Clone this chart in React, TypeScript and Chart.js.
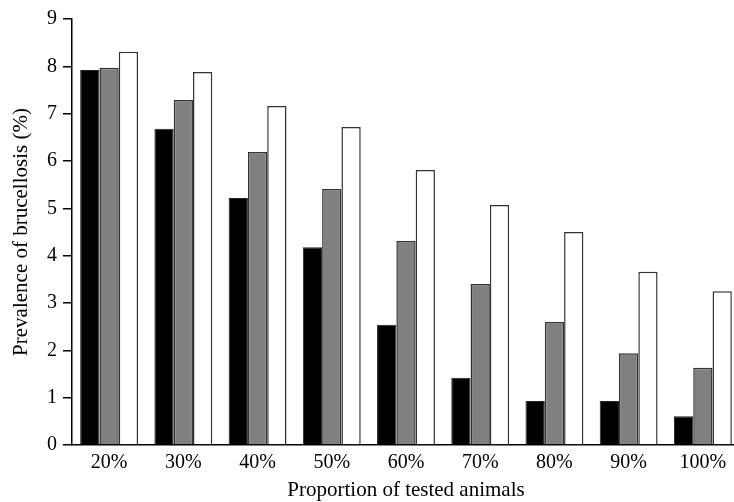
import React, { useEffect, useRef } from "react";
import { Chart, registerables } from "chart.js";

Chart.register(...registerables);

const categories = ["20%", "30%", "40%", "50%", "60%", "70%", "80%", "90%", "100%"];
const seriesBlack = [7.92, 6.68, 5.22, 4.18, 2.54, 1.42, 0.93, 0.93, 0.61];
const seriesGray = [7.97, 7.29, 6.19, 5.41, 4.31, 3.4, 2.6, 1.94, 1.63];
const seriesWhite = [8.31, 7.88, 7.16, 6.72, 5.81, 5.07, 4.5, 3.66, 3.25];
const yTicks = [0, 1, 2, 3, 4, 5, 6, 7, 8, 9];

const FONT = "'Liberation Serif', 'Times New Roman', serif";

export default function App() {
  const ref = useRef<HTMLCanvasElement | null>(null);
  useEffect(() => {
    document.body.style.margin = "0";
    document.body.style.overflow = "hidden";
    const ctx = ref.current!;
    const chart = new Chart(ctx, {
      type: "bar",
      data: {
        labels: categories,
        datasets: [
          { label: "A", data: seriesBlack, backgroundColor: "#000000", borderColor: "#222222", borderWidth: 1 },
          { label: "B", data: seriesGray, backgroundColor: "#808080", borderColor: "#333333", borderWidth: 1.5 },
          { label: "C", data: seriesWhite, backgroundColor: "#ffffff", borderColor: "#333333", borderWidth: 1.5 },
        ],
      },
      options: {
        animation: false,
        responsive: false,
        maintainAspectRatio: false,
        layout: { padding: { top: 19, right: 0, left: 0, bottom: 0 } },
        datasets: { bar: { categoryPercentage: 0.78, barPercentage: 1.0 } },
        plugins: { legend: { display: false }, tooltip: { enabled: false } },
        scales: {
          x: {
            grid: { display: false, drawTicks: false },
            border: { display: true, color: "#000000", width: 1.5 },
            ticks: { color: "#000", font: { family: FONT, size: 20 }, padding: 6 },
            title: { display: true, text: "Proportion of tested animals", color: "#000", font: { family: FONT, size: 21 }, padding: { top: 0, bottom: -1 } },
            afterFit: (s: any) => { s.height = 57; },
          },
          y: {
            min: 0,
            max: 9,
            afterBuildTicks: (s: any) => { s.ticks = yTicks.map((v) => ({ value: v })); },
            grid: { display: true, drawOnChartArea: false, drawTicks: true, tickLength: 9, color: "#000", lineWidth: 1.5 },
            border: { display: true, color: "#000000", width: 1.5 },
            ticks: { color: "#000", font: { family: FONT, size: 20 }, padding: 6 },
            title: { display: true, text: "Prevalence of brucellosis (%)", color: "#000", font: { family: FONT, size: 21 }, padding: { top: 9, bottom: 0 } },
            afterFit: (s: any) => { s.width = 72; },
          },
        },
      },
    });
    return () => chart.destroy();
  }, []);
  return (
    <div style={{ width: 734, height: 502, overflow: "hidden" }}>
      <canvas ref={ref} width={740} height={502} style={{ display: "block" }} />
    </div>
  );
}
